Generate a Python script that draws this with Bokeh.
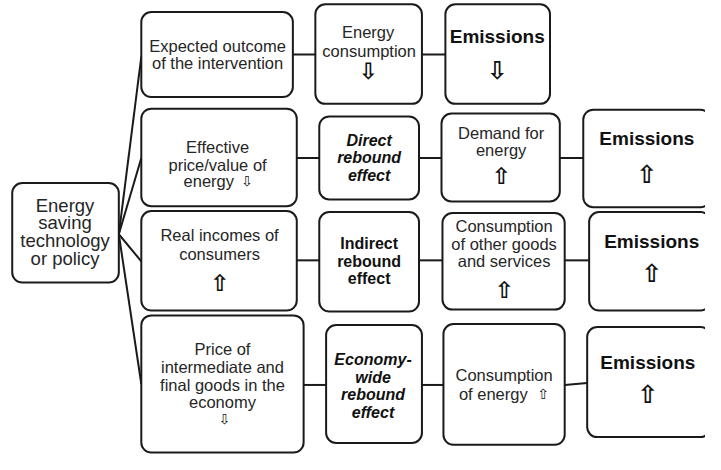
from bokeh.plotting import figure
from bokeh.models import Range1d, ColumnDataSource
from bokeh.core.properties import value
from bokeh.embed import file_html
from bokeh.resources import INLINE

# ---------------- content (texts of the diagram) ----------------
root_lines = ["Energy", "saving", "technology", "or policy"]
regular_lines = ["Expected outcome", "of the intervention",
                 "Energy", "consumption",
                 "Effective", "price/value of", "energy",
                 "Demand for", "energy",
                 "Real incomes of", "consumers",
                 "Consumption", "of other goods", "and services",
                 "Price of", "intermediate and", "final goods in the", "economy",
                 "Consumption", "of energy"]
emission_lines = ["Emissions", "Emissions", "Emissions", "Emissions"]
bold_italic_lines = ["Direct", "rebound", "effect", "Economy-", "wide", "rebound", "effect"]
bold_lines = ["Indirect", "rebound", "effect"]
arrow_big = ["\u21e9", "\u21e7", "\u21e7", "\u21e7"]          # in Emissions boxes
arrow_mid = ["\u21e9", "\u21e7", "\u21e7", "\u21e7"]          # consumption / demand / incomes
arrow_small = ["\u21e9", "\u21e9", "\u21e7"]                  # inline small arrows

# ---------------- layout (pixel positions in the diagram) ----------------
box_left   = [12, 144, 322, 455, 144, 326, 451, 596, 144, 326, 452, 602, 144, 333, 453, 600]
box_right  = [121, 299, 431, 562, 303, 428, 572, 726, 303, 428, 577, 726, 310, 431, 577, 726]
box_top    = [189, 12, 4, 4, 112, 120, 117, 113, 218, 219, 220, 219, 326, 336, 335, 338]
box_bottom = [292, 100, 107, 107, 213, 206, 208, 214, 321, 322, 320, 321, 468, 458, 460, 452]

seg_x0 = [121, 121, 121, 121, 299, 431, 303, 428, 572, 303, 428, 577, 310, 431, 577]
seg_y0 = [242, 242, 242, 242, 56, 56, 163, 163, 163, 269, 269, 269, 398, 398, 398]
seg_x1 = [144, 144, 144, 144, 322, 455, 326, 451, 596, 326, 452, 602, 333, 453, 600]
seg_y1 = [58, 163, 270, 397, 56, 56, 163, 163, 163, 269, 269, 269, 398, 398, 396]

root_x = [66, 66, 66, 66]
root_y = [212, 230, 248, 267]
reg_x = [222, 222, 376, 377, 222, 222, 213, 512, 512, 224, 224, 515, 515, 515,
         227, 227, 227, 227, 515, 504]
reg_y = [47, 65, 33, 52, 152, 170, 187, 137, 155, 243, 262, 233, 252, 270,
         361, 379, 398, 416, 388, 407]
em_x = [508, 661, 666, 662]
em_y = [37, 143, 250, 375]
bi_x = [377, 377, 377, 381, 381, 381, 381]
bi_y = [145, 163, 181, 372, 390, 408, 427]
b_x = [377, 377, 377]
b_y = [252, 270, 288]
ab_x = [508, 661, 666, 662]
ab_y = [72, 180, 283, 408]
am_x = [376, 512, 224, 515]
am_y = [73, 182, 292, 300]
as_x = [252, 229, 555]
as_y = [187, 433, 407]

p = figure(width=705, height=454, output_backend="svg", toolbar_location=None,
           x_range=Range1d(0, 721), y_range=Range1d(470, 0),
           min_border=0, background_fill_color="white", border_fill_color="white")
p.axis.visible = False
p.grid.visible = False
p.outline_line_color = None

LINE = "#1a1a1a"
p.segment(x0=seg_x0, y0=seg_y0, x1=seg_x1, y1=seg_y1, line_color=LINE, line_width=2)
p.quad(left=box_left, right=box_right, top=box_top, bottom=box_bottom,
       fill_color="white", line_color=LINE, line_width=2, border_radius=10)

FONT = value("Liberation Sans")

def txt(xs, ys, texts, size, style="normal", color="#262626", font=FONT):
    src = ColumnDataSource(dict(x=xs, y=ys, t=texts))
    p.text(x="x", y="y", text="t", source=src, text_align="center",
           text_baseline="middle", text_font=font, text_font_size=value(size),
           text_font_style=style, text_color=color)

txt(root_x, root_y, root_lines, "18.5px")
txt(reg_x, reg_y, regular_lines, "16.5px")
txt(em_x, em_y, emission_lines, "19px", "bold", "#111111")
txt(bi_x, bi_y, bold_italic_lines, "16px", "bold italic", "#111111")
txt(b_x, b_y, bold_lines, "16px", "bold", "#111111")
ARW = value("DejaVu Sans")
txt(ab_x, ab_y, arrow_big, "25px", "bold", "#111111", ARW)
txt(am_x, am_y, arrow_mid, "23px", "bold", "#111111", ARW)
txt(as_x, as_y, arrow_small, "14px", "normal", "#111111", ARW)

open("out.html", "w").write(file_html(p, INLINE))
